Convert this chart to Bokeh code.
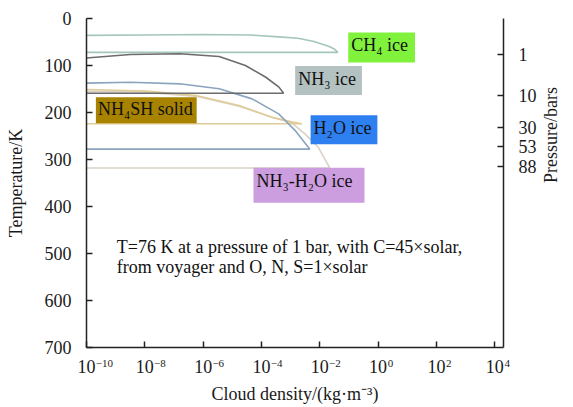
import math
from bokeh.plotting import figure
from bokeh.models import Range1d, LinearAxis, FixedTicker, Label
from bokeh.embed import file_html
from bokeh.resources import INLINE

# ---------------- data ----------------
temp_ticks = [0, 100, 200, 300, 400, 500, 600, 700]
density_exp_ticks = [-10, -8, -6, -4, -2, 0, 2, 4]
density_tick_base = "10"
density_tick_exponents = ["−10", "−8", "−6", "−4", "−2", "0", "2", "4"]
pressure_temp = [76, 164, 231, 272, 314]
pressure_labels = ["1", "10", "30", "53", "88"]

# cloud curves: log10 density (kg/m3) and temperature (K)
ch4_upper_exp = [-10, -8, -6, -4.4, -3.4, -2.75, -2.2, -1.7, -1.5, -1.38]
ch4_upper_T = [36, 35, 34, 35, 39, 42, 49, 59, 65, 72]
ch4_lower_exp = [-10, -1.38]
ch4_lower_T = [72, 72]

nh3_upper_exp = [-10, -8.5, -6.8, -5.45, -4.55, -3.85, -3.4, -3.24]
nh3_upper_T = [84, 76.5, 75, 81, 100, 125, 146, 159]
nh3_lower_exp = [-10, -3.24]
nh3_lower_T = [159, 159]

h2o_upper_exp = [-10, -8.5, -6.8, -5.45, -4.32, -3.41, -2.85, -2.34]
h2o_upper_T = [137.5, 135.5, 139, 149.5, 171, 203, 238, 278]
h2o_lower_exp = [-10, -2.34]
h2o_lower_T = [278, 278]

nh4sh_upper_exp = [-10, -7.94, -6.24, -4.77, -3.64, -2.96, -2.62]
nh4sh_upper_T = [151, 154.5, 164, 185, 210, 220, 224]
nh4sh_lower_exp = [-10, -2.62]
nh4sh_lower_T = [224, 224]

nh3h2o_upper_exp = [-10, -8, -6.2, -4.8, -3.65, -2.96, -2.5, -2.05, -1.66]
nh3h2o_upper_T = [155, 157, 166, 186, 210, 222, 246, 274, 318]
nh3h2o_lower_exp = [-10, -1.66]
nh3h2o_lower_T = [318, 318]

phase_names = ["CH₄ ice", "NH₃ ice", "NH₄SH solid", "H₂O ice", "NH₃-H₂O ice"]
note_lines = ["T=76 K at a pressure of 1 bar, with C=45×solar,",
              "from voyager and O, N, S=1×solar"]
x_title = "Cloud density/(kg·m⁻³)"
y_title = "Temperature/K"
y2_title = "Pressure/bars"

# ---------------- layout / style ----------------
FONT = "Liberation Serif"
FS = "18px"
SUP_PX = 11
XMIN, XMAX = -10, 4.3
TMIN, TMAX = 0, 700
NBSP = "\u00a0"

p = figure(width=573, height=407, output_backend="svg", toolbar_location=None,
           x_range=Range1d(XMIN, XMAX), y_range=Range1d(TMAX, TMIN),
           min_border_left=86, min_border_right=66, min_border_top=18,
           min_border_bottom=60)
p.outline_line_color = None
p.grid.visible = False
p.background_fill_color = "white"
p.border_fill_color = "white"

line_specs = [
    (ch4_upper_exp, ch4_upper_T, "#a4c6bd"),
    (ch4_lower_exp, ch4_lower_T, "#a4c6bd"),
    (nh3h2o_upper_exp, nh3h2o_upper_T, "#d9d2c4"),
    (nh3h2o_lower_exp, nh3h2o_lower_T, "#d9d2c4"),
    (nh4sh_upper_exp, nh4sh_upper_T, "#e0cc98"),
    (nh4sh_lower_exp, nh4sh_lower_T, "#e0cc98"),
    (h2o_upper_exp, h2o_upper_T, "#8aa4bf"),
    (h2o_lower_exp, h2o_lower_T, "#8aa4bf"),
    (nh3_upper_exp, nh3_upper_T, "#6c6c6c"),
    (nh3_lower_exp, nh3_lower_T, "#6c6c6c"),
]
for xs, ys, c in line_specs:
    p.line(xs, ys, line_color=c, line_width=1.6)

def style_axis(ax, size=FS):
    ax.axis_line_color = "#222222"
    ax.axis_line_width = 1.5
    ax.major_tick_line_color = "#222222"
    ax.major_tick_line_width = 1.5
    ax.major_tick_in = 6
    ax.major_tick_out = 0
    ax.minor_tick_in = 0
    ax.minor_tick_out = 0
    ax.major_label_text_font = FONT
    ax.major_label_text_font_size = size
    ax.major_label_text_color = "#1a1a1a"
    ax.axis_label_text_font = FONT
    ax.axis_label_text_font_size = FS
    ax.axis_label_text_font_style = "normal"
    ax.axis_label_text_color = "#1a1a1a"

# superscript exponent sits just right of the centred "10"
def sup_width(s):
    return sum(0.564 * SUP_PX if ch == "−" else 0.5 * SUP_PX for ch in s)

sup_labels = {}
for t, e in zip(density_exp_ticks, density_tick_exponents):
    m = max(0, round((18 + sup_width(e)) / (0.25 * SUP_PX)))
    sup_labels[t] = NBSP * m + e

# bottom axis: "10" part of the tick labels
xa = p.xaxis[0]
xa.ticker = FixedTicker(ticks=density_exp_ticks)
xa.major_label_overrides = {t: density_tick_base for t in density_exp_ticks}
style_axis(xa)
xa.major_label_standoff = 12

# second bottom axis: superscript exponents + axis title
xe = LinearAxis(ticker=FixedTicker(ticks=density_exp_ticks),
                major_label_overrides=sup_labels, axis_label=x_title)
style_axis(xe, size=f"{SUP_PX}px")
xe.axis_line_color = None
xe.major_tick_line_color = None
xe.major_tick_in = 0
xe.major_label_standoff = -19
xe.axis_label_standoff = 12
p.add_layout(xe, "below")

ya = p.yaxis[0]
ya.ticker = FixedTicker(ticks=temp_ticks)
ya.axis_label = y_title
style_axis(ya)
ya.major_label_standoff = 15
ya.axis_label_standoff = 16

ra = LinearAxis(ticker=FixedTicker(ticks=pressure_temp),
                major_label_overrides=dict(zip(pressure_temp, pressure_labels)),
                axis_label=y2_title)
style_axis(ra)
ra.major_label_standoff = 15
ra.axis_label_standoff = 11
if hasattr(ra, "axis_label_orientation"):
    ra.axis_label_orientation = math.pi / 2
p.add_layout(ra, "right")

def txt(x, y, text, align="center", bg=None, pad=0):
    kw = {}
    if bg is not None:
        kw = dict(background_fill_color=bg, padding=pad)
    p.add_layout(Label(x=x, y=y, text=text, text_align=align,
                       text_baseline="middle", text_font=FONT,
                       text_font_size=FS, text_color="#111111", **kw))

# phase labels (positions in data space: log10 density, temperature)
label_x = [0.12, -1.70, -7.95, -1.17, -2.37]
label_y = [61.5, 131.8, 195, 236.7, 355]
label_bg = ["#80f23c", "#b4c1c1", "#a88300", "#2e7ff0", "#cc9ddf"]
label_pad = [(3, 7, 3, 7), (3, 6, 3, 6), (2, 4, 2, 4), (3, 6, 3, 6), (3, 12, 3, 12)]
for name, lx, ly, bg, pad in zip(phase_names, label_x, label_y, label_bg, label_pad):
    txt(lx, ly, name, bg=bg, pad=pad)

note_y = [486, 528.6]
for t, ny in zip(note_lines, note_y):
    txt(-8.96, ny, t, align="left")

open("out.html", "w").write(file_html(p, INLINE))
